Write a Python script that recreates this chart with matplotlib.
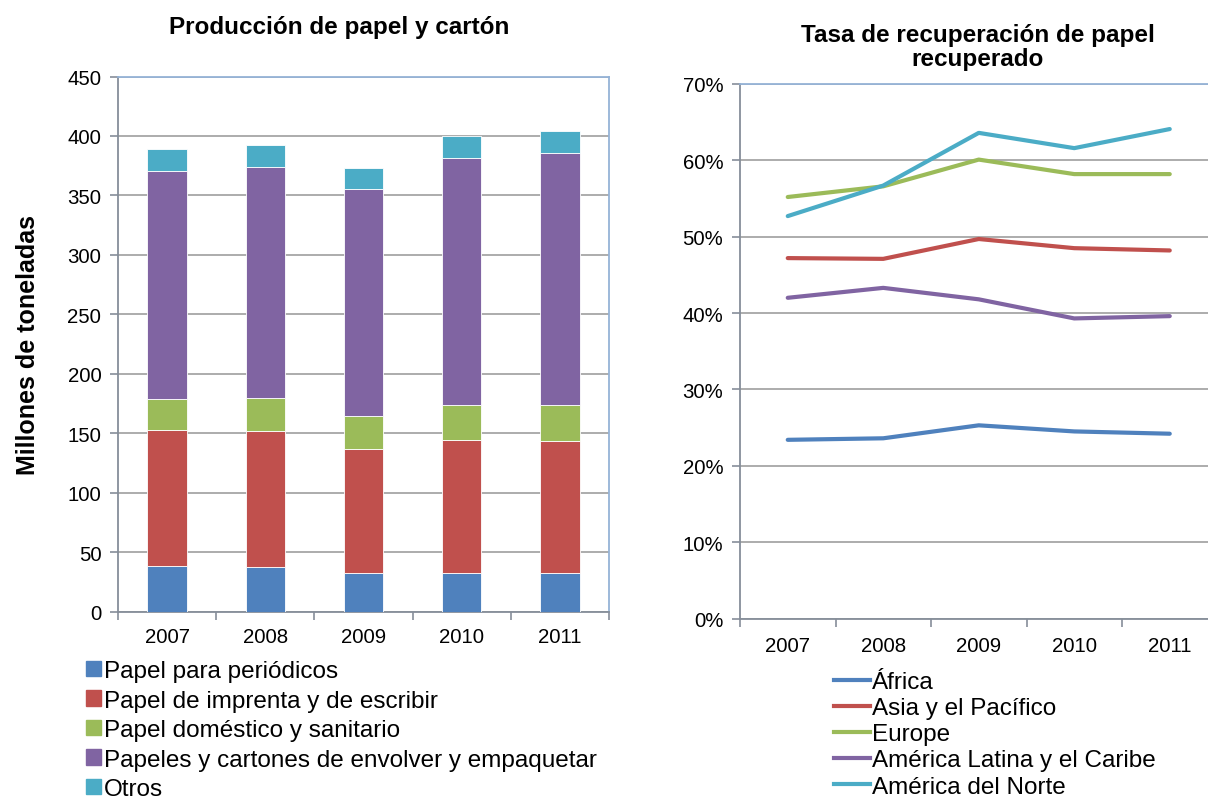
import numpy as np
import matplotlib
matplotlib.use("Agg")
import matplotlib.pyplot as plt
from matplotlib.patches import Rectangle
from matplotlib.lines import Line2D
from matplotlib.ticker import FixedLocator, PercentFormatter

plt.rcParams['font.family'] = ['Liberation Sans', 'DejaVu Sans']

years = ['2007', '2008', '2009', '2010', '2011']

# produccion (millones de toneladas), por tipo
periodicos = [38.4, 37.3, 32.5, 32.8, 32.2]
imprenta = [114.1, 114.7, 104.0, 111.6, 111.0]
domestico = [26.5, 28.0, 28.3, 28.9, 30.1]
envolver = [191.6, 193.7, 190.7, 208.3, 212.5]
otros = [18.2, 18.8, 17.9, 18.2, 18.2]

bar_labels = ['Papel para periódicos', 'Papel de imprenta y de escribir',
              'Papel doméstico y sanitario',
              'Papeles y cartones de envolver y empaquetar', 'Otros']

# tasa de recuperacion (%)
africa = [23.4, 23.6, 25.3, 24.5, 24.2]
asia = [47.2, 47.1, 49.7, 48.5, 48.2]
europe = [55.2, 56.6, 60.1, 58.2, 58.2]
latam = [42.0, 43.3, 41.8, 39.3, 39.6]
norte = [52.7, 56.7, 63.6, 61.6, 64.1]

line_labels = ['África', 'Asia y el Pacífico', 'Europe',
               'América Latina y el Caribe', 'América del Norte']

colors = ['#4F81BD', '#C0504D', '#9BBB59', '#8064A2', '#4BACC6']
grid_c = '#A6A6A6'
axis_c = '#868E9A'
border_c = '#95B3D7'
tick_fs = 14.7

fig = plt.figure(figsize=(12.08, 8.03), dpi=100)

# ---- left: stacked bars
ax1 = fig.add_axes([118/1208, 1 - 612.5/803, 491/1208, 535/803])
x = np.arange(len(years))
bottom = np.zeros(len(years))
for vals, c in zip([periodicos, imprenta, domestico, envolver, otros], colors):
    ax1.bar(x, vals, width=0.4, bottom=bottom, color=c,
            edgecolor='white', linewidth=0.6, zorder=3)
    bottom += np.array(vals)

ax1.set_xlim(-0.5, 4.5)
ax1.set_ylim(0, 450)
ax1.set_yticks(np.arange(0, 451, 50))
ax1.set_xticks(x)
ax1.set_xticklabels(years)
ax1.xaxis.set_minor_locator(FixedLocator(np.arange(-0.5, 5, 1)))
ax1.tick_params(axis='x', which='major', length=0, labelsize=tick_fs, pad=11.5)
ax1.tick_params(axis='x', which='minor', length=6, color=axis_c, width=1.2)
ax1.tick_params(axis='y', length=6, color=axis_c, width=1.2, labelsize=tick_fs, pad=6)
ax1.grid(axis='y', color=grid_c, linewidth=1.3, zorder=0)
for s in ['left', 'bottom']:
    ax1.spines[s].set_color(axis_c)
    ax1.spines[s].set_linewidth(1.3)
for s in ['top', 'right']:
    ax1.spines[s].set_color(border_c)
    ax1.spines[s].set_linewidth(1.3)
ax1.set_title('Producción de papel y cartón', fontsize=17.5,
              fontweight='bold', pad=31, x=0.45)
ax1.set_ylabel('Millones de toneladas', fontsize=18, fontweight='bold',
               labelpad=20)

bar_handles = [Rectangle((0, 0), 1, 1, color=c) for c in colors]
fig.legend(bar_handles, bar_labels, loc='upper left',
           bbox_to_anchor=(86/1208, 1 - 661/803), frameon=False,
           fontsize=17.5, handlelength=0.6, handleheight=0.6,
           handletextpad=0.15, labelspacing=0.31, borderpad=0,
           borderaxespad=0)

# ---- right: lines
ax2 = fig.add_axes([740/1208, 1 - 619.5/803, 477.5/1208, 534.5/803])
for vals, c in zip([africa, asia, europe, latam, norte], colors):
    ax2.plot(x, vals, color=c, linewidth=3, solid_capstyle='round', zorder=3)

ax2.set_xlim(-0.5, 4.5)
ax2.set_ylim(0, 70)
ax2.set_yticks(np.arange(0, 71, 10))
ax2.yaxis.set_major_formatter(PercentFormatter(decimals=0))
ax2.set_xticks(x)
ax2.set_xticklabels(years)
ax2.xaxis.set_minor_locator(FixedLocator(np.arange(-0.5, 5, 1)))
ax2.tick_params(axis='x', which='major', length=0, labelsize=tick_fs, pad=12.5)
ax2.tick_params(axis='x', which='minor', length=6, color=axis_c, width=1.2)
ax2.tick_params(axis='y', length=6, color=axis_c, width=1.2, labelsize=tick_fs, pad=6)
ax2.grid(axis='y', color=grid_c, linewidth=1.3, zorder=0)
for s in ['left', 'bottom']:
    ax2.spines[s].set_color(axis_c)
    ax2.spines[s].set_linewidth(1.3)
ax2.spines['top'].set_color(border_c)
ax2.spines['top'].set_linewidth(1.3)
ax2.spines['right'].set_visible(False)
ax2.set_title('Tasa de recuperación de papel\nrecuperado', fontsize=17.5,
              fontweight='bold', pad=14, x=(978 - 740) / 477.5,
              linespacing=1.05)

line_handles = [Line2D([0], [0], color=c, linewidth=3) for c in colors]
fig.legend(line_handles, line_labels, loc='upper left',
           bbox_to_anchor=(834/1208, 1 - 672/803), frameon=False,
           fontsize=17.5, handlelength=1.5, handletextpad=0.05,
           labelspacing=0.17, borderpad=0, borderaxespad=0)

fig.savefig('out.png', dpi=100)
